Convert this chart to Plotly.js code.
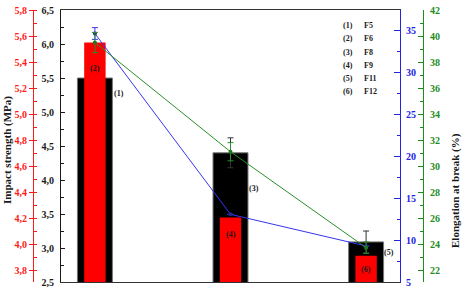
<!DOCTYPE html>
<html><head><meta charset="utf-8">
<script src="https://cdn.plot.ly/plotly-3.0.1.min.js"></script>
<style>html,body{margin:0;padding:0;background:#fff}#chart{width:462px;height:288px}</style>
</head><body><div id="chart"></div>
<script>
// ---- data ----
const groups = ['F5 / F6', 'F8 / F9', 'F11 / F12'];
const impactBlack = [5.5, 4.4, 3.09];
const impactBlackErr = [0.2, 0.22, 0.16];
const impactRed = [5.55, 4.205, 3.91];
const elongBlue = [34.6, 13.06, 9.29];
const elongBlueErr = [0.7, 0, 0];
const elongGreen = [39.5, 31.1, 23.72];
const elongGreenErr = [0.78, 0.7, 0.44];
const blackLabels = ['(1)', '(3)', '(5)'];
const redLabels = ['(2)', '(4)', '(6)'];
const keyIds = ['(1)', '(2)', '(3)', '(4)', '(5)', '(6)'];
const keyNames = ['F5', 'F6', 'F8', 'F9', 'F11', 'F12'];

// ---- layout helpers ----
const W = 462, H = 288, PT = 10, PB = 282;
const px = v => v / W;
const py = v => (PB - v) / (PB - PT);
const FAM = 'Liberation Serif, Times New Roman, serif';
const f = (size, color) => ({family: FAM, size: size, color: color, weight: 'bold'});
const RED = '#ff1a1a', BLUE = '#2323e6', GREEN = '#1f8c1f', BLK = '#1a1a1a';

const traces = [
  {type: 'bar', x: groups, y: impactBlack, yaxis: 'y', width: 0.258,
   marker: {color: '#000', line: {color: '#777', width: 1}},
   error_y: {type: 'data', array: impactBlackErr, visible: true, color: '#333', thickness: 1, width: 3},
   hoverinfo: 'skip'},
  {type: 'bar', x: groups, y: impactRed, yaxis: 'y2', width: 0.158,
   marker: {color: '#ff0000', line: {width: 0}}, hoverinfo: 'skip'},
  {type: 'scatter', mode: 'lines+markers', x: groups, y: elongBlue, yaxis: 'y3',
   line: {color: '#3535f0', width: 1}, marker: {color: '#25258a', size: 4},
   error_y: {type: 'data', array: elongBlueErr, visible: true, color: '#3535f0', thickness: 1, width: 3},
   hoverinfo: 'skip'},
  {type: 'scatter', mode: 'lines+markers', x: groups, y: elongGreen, yaxis: 'y4',
   line: {color: '#2a8f2a', width: 1}, marker: {color: '#1f7a1f', size: 4},
   error_y: {type: 'data', array: elongGreenErr, visible: true, color: '#2a8f2a', thickness: 1, width: 3},
   hoverinfo: 'skip'}
];

const ann = [];
const lab = (text, x, xref, y, size) => ann.push({text: text, x: x, xref: xref, y: y, yref: 'paper',
  showarrow: false, font: f(size || 8, BLK), xanchor: 'center', yanchor: 'middle'});
// bar labels
lab(blackLabels[0], 0.178, 'x', py(93));
lab(redLabels[0], 0, 'x', py(68));
lab(blackLabels[1], 1.17, 'x', py(188));
lab(redLabels[1], 1.0, 'x', py(234));
lab(blackLabels[2], 2.17, 'x', py(252));
lab(redLabels[2], 2.0, 'x', py(269));
// key block
const keyY = [25, 38.7, 52, 65.7, 78.7, 91];
keyIds.forEach((k, i) => {
  ann.push({text: k, x: px(341), xref: 'paper', y: py(keyY[i]), yref: 'paper', showarrow: false,
    xanchor: 'left', yanchor: 'middle', font: f(8, BLK)});
  ann.push({text: keyNames[i], x: px(362), xref: 'paper', y: py(keyY[i]), yref: 'paper', showarrow: false,
    xanchor: 'left', yanchor: 'middle', font: f(8, BLK)});
});
// axis titles
ann.push({text: 'Impact strength (MPa)', x: px(7), xref: 'paper', y: py(150), yref: 'paper', textangle: -90,
  showarrow: false, xanchor: 'center', yanchor: 'middle', font: f(11, BLK)});
ann.push({text: 'Elongation at break (%)', x: px(455), xref: 'paper', y: py(191), yref: 'paper', textangle: -90,
  showarrow: false, xanchor: 'center', yanchor: 'middle', font: f(11, BLK)});

const layout = {
  width: W, height: H, autosize: false,
  margin: {l: 0, r: 0, t: PT, b: H - PB, pad: 0},
  paper_bgcolor: '#fff', plot_bgcolor: '#fff',
  separators: ', ',
  showlegend: false, barmode: 'overlay',
  xaxis: {domain: [px(61), px(400)], range: [-0.25, 2.25], showticklabels: false, ticks: '',
    showline: true, linecolor: '#333', linewidth: 1, mirror: true, showgrid: false, zeroline: false, fixedrange: true},
  yaxis: {range: [2.5, 6.5], tick0: 2.5, dtick: 0.5, tickformat: '.1f', ticks: 'inside', ticklen: 4, tickcolor: BLK,
    showline: true, linecolor: BLK, linewidth: 1, showgrid: false, zeroline: false, tickfont: f(10, BLK),
    ticklabelstandoff: 4, minor: {dtick: 0.25, ticks: 'inside', ticklen: 2.5, tickcolor: BLK}},
  yaxis2: {overlaying: 'y', side: 'left', anchor: 'free', position: px(33), range: [3.708, 5.8],
    tick0: 3.8, dtick: 0.2, tickformat: '.1f', ticks: 'outside', ticklen: 4, tickcolor: RED,
    showline: true, linecolor: RED, linewidth: 1, showgrid: false, zeroline: false, tickfont: f(10, RED),
    minor: {dtick: 0.1, ticks: 'inside', ticklen: 3, tickcolor: RED}},
  yaxis3: {overlaying: 'y', side: 'right', anchor: 'x', range: [5, 37.4], tick0: 5, dtick: 5,
    ticks: 'inside', ticklen: 6, tickcolor: BLUE, showline: true, linecolor: BLUE, linewidth: 1,
    showgrid: false, zeroline: false, tickfont: f(10, BLUE), ticklabelstandoff: 3,
    minor: {dtick: 2.5, ticks: 'inside', ticklen: 3, tickcolor: BLUE}},
  yaxis4: {overlaying: 'y', side: 'right', anchor: 'free', position: px(423), range: [21.08, 42], tick0: 22, dtick: 2,
    ticks: 'inside', ticklen: 5, tickcolor: GREEN, showline: true, linecolor: GREEN, linewidth: 1,
    showgrid: false, zeroline: false, tickfont: f(10, GREEN), ticklabelstandoff: 4,
    minor: {dtick: 1, ticks: 'inside', ticklen: 3, tickcolor: GREEN}},
  annotations: ann
};

Plotly.newPlot('chart', traces, layout, {staticPlot: true, displayModeBar: false});
</script>
</body></html>
